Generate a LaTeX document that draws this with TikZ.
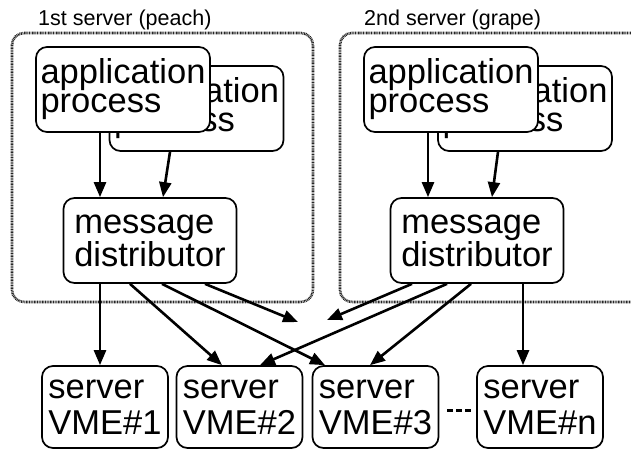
\documentclass[tikz,border=0pt]{standalone}
\usepackage{fontspec}
\setmainfont{Liberation Sans}
\usetikzlibrary{arrows.meta}

\begin{document}
\begin{tikzpicture}[x=1pt,y=-1pt,
  box/.style={draw,line width=1.7pt,rounded corners=11pt,fill=white,align=left,inner sep=2pt},
  procbox/.style={box,minimum width=174pt,minimum height=85pt,font=\fontsize{34.5}{29}\selectfont},
  distbox/.style={box,minimum width=173pt,minimum height=85pt,font=\fontsize{34.5}{32}\selectfont},
  vmebox/.style={box,minimum width=126pt,minimum height=82pt,font=\fontsize{34.5}{36}\selectfont},
  group/.style={draw=black!85,line width=2.6pt,dash pattern=on 0.9pt off 0.7pt,rounded corners=12pt},
  title/.style={anchor=base west,inner sep=0pt,font=\fontsize{21.5}{24}\selectfont},
  msg/.style={line width=2.6pt,-{Triangle[length=15pt,width=12pt]}}]
\clip (0,0) rectangle (631,451);
% the two hosts
\draw[group] (12,33) rectangle (313,302);
\draw[group] (340,33) rectangle (660,302);
\node[title] (peach) at (38,25) {1st server (peach)};
\node[title] (grape) at (364,25) {2nd server (grape)};
% processes
\node[procbox] (appLb) at (196.5,108.5) {application\\process};
\node[procbox] (appL) at (123,89.5) {application\\process};
\node[procbox] (appRb) at (525,108.5) {application\\process};
\node[procbox] (appR) at (451,89.5) {application\\process};
\node[distbox] (distL) at (150,240.5) {message\\distributor};
\node[distbox] (distR) at (477,240.5) {message\\distributor};
% VME servers
\node[vmebox] (vme1) at (105,407) {server\\VME\#1};
\node[vmebox] (vme2) at (239.5,407) {server\\VME\#2};
\node[vmebox] (vme3) at (375.5,407) {server\\VME\#3};
\node[vmebox] (vmen) at (540,407) {server\\VME\#n};
\draw[line width=3pt,dash pattern=on 6pt off 3pt,shorten <=8pt,shorten >=4pt]
  ([yshift=-3pt]vme3.east) -- ([yshift=-3pt]vmen.west);
\coordinate (midL) at (298,322);
\coordinate (midR) at (327,320);
% processes to distributors
\draw[msg] ([xshift=-23pt]appL.south) -- ([xshift=-50pt]distL.north);
\draw[msg] ([xshift=-26.5pt]appLb.south) -- ([xshift=13pt]distL.north);
\draw[msg] ([xshift=-23pt]appR.south) -- ([xshift=-49pt]distR.north);
\draw[msg] ([xshift=-27pt]appRb.south) -- ([xshift=15pt]distR.north);
% distributors to servers
\draw[msg] ([xshift=-50pt]distL.south) -- ([xshift=-5pt]vme1.north);
\draw[msg] ([xshift=-20pt]distL.south) -- ([xshift=-17.5pt]vme2.north);
\draw[msg] ([xshift=12pt]distL.south) -- ([xshift=-50.5pt]vme3.north);
\draw[msg] ([xshift=55pt]distL.south) -- (midL);
\draw[msg] ([xshift=-65pt]distR.south) -- (midR);
\draw[msg] ([xshift=-30pt]distR.south) -- ([xshift=20.5pt]vme2.north);
\draw[msg] ([xshift=-6pt]distR.south) -- ([xshift=-5.5pt]vme3.north);
\draw[msg] ([xshift=46pt]distR.south) -- ([xshift=-17pt]vmen.north);
\end{tikzpicture}
\end{document}
